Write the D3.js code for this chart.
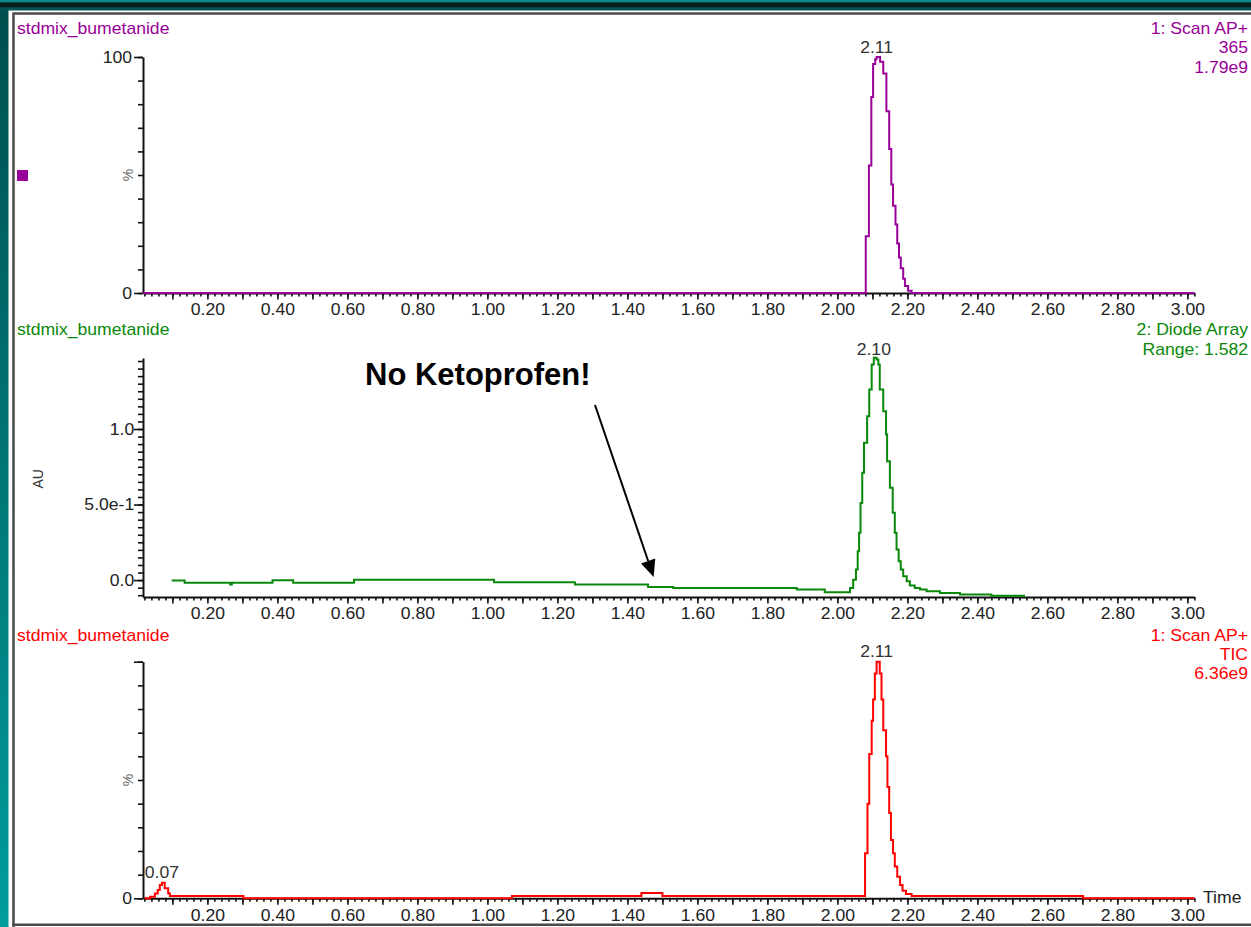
<!DOCTYPE html>
<html>
<head>
<meta charset="utf-8">
<script src="https://cdn.jsdelivr.net/npm/d3@7"></script>
<style>
  body { margin: 0; background: #fff; }
  svg { display: block; }
  text { font-family: "Liberation Sans", Arial, sans-serif; }
</style>
</head>
<body>
<svg id="chart" width="1251" height="927"></svg>
<script>
// ---------- data ----------
const sampleName = "stdmix_bumetanide";

// x-axis (retention time, min)
const timeTickLabels = [0.20, 0.40, 0.60, 0.80, 1.00, 1.20, 1.40, 1.60, 1.80, 2.00, 2.20, 2.40, 2.60, 2.80, 3.00];

// trace 1: Scan AP+ 365 (relative %)
const scanTime = [0.016, 2.081, 2.090, 2.097, 2.102, 2.108, 2.112, 2.122, 2.131, 2.140, 2.148, 2.154, 2.159, 2.166, 2.171, 2.176, 2.181, 2.188, 2.193, 2.202, 2.212, 3.020];
const scanPct  = [0,     24,    54,    83,    97,    99,    100,   98,    93,    77,    61,    46,    37,    29,    21,    15,    10.5,  6,     3,     1,     0,     0];
const scanInfo = ["1: Scan AP+", "365", "1.79e9"];
const scanPeak = "2.11";

// trace 2: Diode Array (AU)
const daTime = [0.098, 0.135, 0.265, 0.270, 0.386, 0.445, 0.619, 1.019, 1.250, 1.459, 1.531, 1.884, 1.964,
                2.036, 2.045, 2.053, 2.058, 2.062, 2.066, 2.071, 2.076, 2.085, 2.091, 2.098, 2.104, 2.112,
                2.117, 2.121, 2.131, 2.139, 2.142, 2.150, 2.158, 2.164, 2.169, 2.175, 2.181, 2.188, 2.198,
                2.207, 2.221, 2.236, 2.255, 2.293, 2.350, 2.440, 2.536];
const daAU   = [-0.003, -0.018, -0.030, -0.018, -0.001, -0.018, 0.002, -0.015, -0.030, -0.045, -0.052, -0.063, -0.081,
                -0.052, 0.003, 0.070, 0.191, 0.313, 0.511, 0.710, 0.909, 1.085, 1.262, 1.427, 1.471, 1.460,
                1.427, 1.262, 1.118, 0.964, 0.787, 0.611, 0.445, 0.313, 0.202, 0.125, 0.070, 0.025, -0.008,
                -0.036, -0.052, -0.063, -0.074, -0.085, -0.096, -0.103, -0.103];
const daInfo = ["2: Diode Array", "Range: 1.582"];
const daPeak = "2.10";
const daRange = [-0.112, 1.470];

// trace 3: Scan AP+ TIC (relative %)
const ticTime = [0.020, 0.036, 0.050, 0.058, 0.064, 0.070, 0.078, 0.088, 0.093, 0.303, 1.070, 1.440, 1.500,
                 2.079, 2.086, 2.091, 2.098, 2.102, 2.107, 2.112, 2.121, 2.126, 2.131, 2.139, 2.143, 2.148,
                 2.153, 2.159, 2.164, 2.171, 2.179, 2.186, 2.196, 2.212, 2.702, 3.020];
const ticPct  = [0, 0.7, 2, 3.5, 5.6, 6.6, 4.3, 2, 1, 0, 1, 2.2, 1,
                 19, 40, 61, 75, 84, 95, 100, 95, 84, 71, 60, 47, 36,
                 24.6, 19, 13.4, 9.1, 5.6, 3.2, 1.8, 1, 0, 0];
const ticInfo = ["1: Scan AP+", "TIC", "6.36e9"];
const ticPeaks = [{ t: 2.112, label: "2.11" }, { t: 0.070, label: "0.07" }];

const noteText = "No Ketoprofen!";
const noteTarget = { t: 1.475, au: 0.02 };

// ---------- layout ----------
const svg = d3.select("#chart");
const W = 1251, H = 927;
const SX = 1.1;           // horizontal stretch of the instrument fonts
const FS = 16;

const defs = svg.append("defs");
const grad = defs.append("linearGradient").attr("id", "side").attr("x1", 0).attr("y1", 0).attr("x2", 0).attr("y2", 1);
grad.append("stop").attr("offset", "0%").attr("stop-color", "#004e4e");
grad.append("stop").attr("offset", "100%").attr("stop-color", "#009c9c");

// window frame
svg.append("rect").attr("width", W).attr("height", H).attr("fill", "url(#side)");
svg.append("rect").attr("x", 0).attr("y", 0).attr("width", W).attr("height", 2.5).attr("fill", "#0a8a8a");
svg.append("rect").attr("x", 0).attr("y", 2.5).attr("width", W).attr("height", 5).attr("fill", "#0b1f1f");
svg.append("rect").attr("x", 0).attr("y", 7.5).attr("width", W).attr("height", 3).attr("fill", "#005454");
svg.append("rect").attr("x", 8.5).attr("y", 10.5).attr("width", W - 8.5).attr("height", H - 10.5).attr("fill", "#fff");
svg.append("path").attr("d", `M13.5,${H} V13.5 H${W}`).attr("fill", "none").attr("stroke", "#4a4a4a").attr("stroke-width", 2.5);
svg.append("path").attr("d", `M12.5,924.8 H${W}`).attr("fill", "none").attr("stroke", "#4a4a4a").attr("stroke-width", 2.5);

const x = d3.scaleLinear().domain([0.016, 3.02]).range([143, 1194.4]);

const panels = [
  { color: "#990099", yDomain: [0, 100], yRange: [293, 57], title: 334, info: scanInfo, infoY: [34, 53, 72.5] },
  { color: "#0a880a", yDomain: daRange, yRange: [597, 358], title: 335, info: daInfo, infoY: [335, 355] },
  { color: "#ff0000", yDomain: [0, 100], yRange: [898.3, 661.7], title: 641, info: ticInfo, infoY: [641, 659.5, 679] }
];
panels[0].title = 34;

function stretchedText(g, px, py, str, anchor, color, size, weight) {
  return g.append("text")
    .attr("transform", `translate(${px},${py}) scale(${SX},1)`)
    .attr("text-anchor", anchor)
    .attr("fill", color)
    .attr("font-size", size || FS)
    .attr("font-weight", weight || "normal")
    .text(str);
}

function styleAxis(g) {
  g.attr("font-family", null).attr("font-size", null);
  g.selectAll("line").attr("stroke", "#111").attr("stroke-width", 1.6);
  g.selectAll("path.domain").attr("stroke", "#111").attr("stroke-width", 2);
}

function drawXAxis(yPos) {
  const minor = d3.range(1, 152).map(i => i * 0.02);
  const major = d3.range(1, 31).map(i => i * 0.1);
  const g = svg.append("g");
  g.append("g").attr("transform", `translate(0,${yPos})`)
    .call(d3.axisBottom(x).tickValues(minor).tickSize(3.5).tickFormat("").tickSizeOuter(0))
    .call(styleAxis).call(a => a.select(".domain").remove());
  g.append("g").attr("transform", `translate(0,${yPos})`)
    .call(d3.axisBottom(x).tickValues(major).tickSize(6.5).tickFormat("").tickSizeOuter(0))
    .call(styleAxis).call(a => a.select(".domain").remove());
  const lab = g.append("g").attr("transform", `translate(0,${yPos})`)
    .call(d3.axisBottom(x).tickValues(timeTickLabels).tickSize(0).tickPadding(11).tickFormat(d3.format(".2f")).tickSizeOuter(0))
    .call(styleAxis);
  lab.selectAll(".tick text").attr("fill", "#222").attr("font-size", FS).attr("transform", `scale(${SX},1)`);
}

function drawYAxis(y, minorVals, majorVals, labelVals, fmt, pad) {
  const g = svg.append("g").attr("transform", "translate(143,0)");
  g.append("g").call(d3.axisLeft(y).tickValues(minorVals).tickSize(5).tickFormat("").tickSizeOuter(0))
    .call(styleAxis);
  g.append("g").call(d3.axisLeft(y).tickValues(majorVals).tickSize(9).tickFormat("").tickSizeOuter(0))
    .call(styleAxis).call(a => a.select(".domain").remove());
  const lab = g.append("g").call(d3.axisLeft(y).tickValues(labelVals).tickSize(0).tickPadding(pad).tickFormat(fmt).tickSizeOuter(0))
    .call(styleAxis).call(a => a.select(".domain").remove());
  lab.selectAll(".tick text").attr("fill", "#222").attr("font-size", FS).attr("transform", `scale(${SX},1)`)
    .attr("dy", "0.33em");
}

const series = [
  d3.zip(scanTime, scanPct),
  d3.zip(daTime, daAU),
  d3.zip(ticTime, ticPct)
];

panels.forEach((p, i) => {
  const y = d3.scaleLinear().domain(p.yDomain).range(p.yRange);
  p.y = y;

  // header texts
  const hg = svg.append("g");
  stretchedText(hg, 17, p.title, sampleName, "start", p.color);
  p.info.forEach((s, k) => stretchedText(hg, 1248, p.infoY[k], s, "end", p.color));

  // axes
  if (i === 1) {
    const minor = d3.range(-2, 30).map(k => +(k * 0.05).toFixed(2));
    drawYAxis(y, minor, [0, 0.5, 1.0], [0, 0.5, 1.0],
      d => d === 0.5 ? "5.0e-1" : d3.format(".1f")(d), 8);
  } else {
    const minor = d3.range(0, 11).map(k => k * 10);
    drawYAxis(y, minor, [0, 100], i === 0 ? [0, 100] : [0], d3.format("d"), 10);
  }
  drawXAxis(p.yRange[0]);

  // trace
  const line = d3.line().x(d => x(d[0])).y(d => y(d[1])).curve(d3.curveStepAfter);
  svg.append("path").datum(series[i]).attr("d", line)
    .attr("fill", "none").attr("stroke", p.color).attr("stroke-width", 2).attr("stroke-linejoin", "miter");
});

// y-axis titles
[[panels[0], 50, "%"], [panels[2], 50, "%"]].forEach(([p, v, s]) => {
  svg.append("text").attr("transform", `translate(${133},${p.y(v)}) rotate(-90)`)
    .attr("text-anchor", "middle").attr("fill", "#666").attr("font-size", 14).text(s);
});
svg.append("text").attr("transform", `translate(43,${panels[1].y(0.67)}) rotate(-90)`)
  .attr("text-anchor", "middle").attr("fill", "#333").attr("font-size", 14).text("AU");

// legend marker of the first trace
svg.append("rect").attr("x", 17).attr("y", 170).attr("width", 11).attr("height", 11).attr("fill", panels[0].color);

// peak labels
const pk = svg.append("g");
{
  const i = scanPct.indexOf(d3.max(scanPct));
  stretchedText(pk, x(scanTime[i]), panels[0].y(scanPct[i]) - 4.5, scanPeak, "middle", "#333");
  const j = daAU.indexOf(d3.max(daAU));
  stretchedText(pk, x(daTime[j]), panels[1].y(daAU[j]) - 3, daPeak, "middle", "#333");
  ticPeaks.forEach(pp => {
    const k = ticTime.indexOf(pp.t);
    stretchedText(pk, x(pp.t), panels[2].y(ticPct[k]) - 4.5, pp.label, "middle", "#333");
  });
}

// "Time" axis caption
stretchedText(svg, 1203, 903, "Time", "start", "#222");

// annotation with arrow
svg.append("text").attr("x", 365).attr("y", 385).attr("font-size", 31).attr("font-weight", "bold")
  .attr("fill", "#000").text(noteText);
{
  const x0 = 595, y0 = 405;
  const x1 = x(noteTarget.t), y1 = panels[1].y(noteTarget.au);
  const dx = x1 - x0, dy = y1 - y0, len = Math.hypot(dx, dy);
  const ux = dx / len, uy = dy / len;
  const hl = 17, hw = 7.5;
  const bx = x1 - ux * hl, by = y1 - uy * hl;
  svg.append("line").attr("x1", x0).attr("y1", y0).attr("x2", bx).attr("y2", by)
    .attr("stroke", "#000").attr("stroke-width", 2);
  svg.append("path")
    .attr("d", `M${x1},${y1} L${bx - uy * hw},${by + ux * hw} L${bx + uy * hw},${by - ux * hw} Z`)
    .attr("fill", "#000");
}
</script>
</body>
</html>
